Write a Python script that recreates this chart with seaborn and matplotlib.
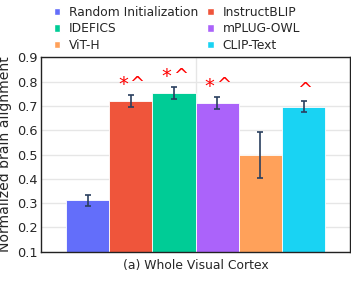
import matplotlib
matplotlib.use("Agg")
import matplotlib.pyplot as plt
import seaborn as sns
import pandas as pd
from matplotlib.patches import Patch

# data
models = ["Random Initialization", "InstructBLIP", "IDEFICS", "mPLUG-OWL", "ViT-H", "CLIP-Text"]
scores = [0.311, 0.721, 0.752, 0.713, 0.497, 0.696]
errors = [0.024, 0.024, 0.024, 0.025, 0.094, 0.023]
marks = ["", "*^", "*^", "*^", "", "^"]
colors = ["#636EFA", "#EF553B", "#00CC96", "#AB63FA", "#FFA15A", "#19D3F3"]
region = "Whole Visual Cortex"

df = pd.DataFrame({"Region": region, "Model": models, "Score": scores})

sns.set_style("white")
plt.rcParams["font.family"] = ["DejaVu Sans"]

fig = plt.figure(figsize=(3.51, 2.88), dpi=100)
ax = fig.add_axes([0.118, 0.126, 0.879, 0.675])

sns.barplot(data=df, x="Region", y="Score", hue="Model", hue_order=models,
            palette=colors, saturation=1, width=0.84, edgecolor="white",
            linewidth=0.6, errorbar=None, legend=False, ax=ax, zorder=2)

# error bars + significance marks, placed on the bar centres seaborn made
bars = [p for p in ax.patches][:len(models)]
for bar, s, e, m in zip(bars, scores, errors, marks):
    cx = bar.get_x() + bar.get_width() / 2
    ax.errorbar(cx, s, yerr=e, fmt="none", ecolor="#2a3f5f", elinewidth=1.2,
                capsize=2.5, capthick=1.2, zorder=3)
    top = s + e + 0.01
    if m == "*^":
        ax.annotate("*", (cx, top), xytext=(-5.5, -1), textcoords="offset points",
                    color="red", ha="center", va="bottom", fontsize=14)
        ax.annotate("^", (cx, top), xytext=(4.5, 0), textcoords="offset points",
                    color="red", ha="center", va="bottom", fontsize=13)
    elif m == "^":
        ax.annotate("^", (cx, top), xytext=(0.5, 0), textcoords="offset points",
                    color="red", ha="center", va="bottom", fontsize=13)

ax.set_ylim(0.1, 0.9)
ax.set_xlim(-0.5, 0.5)
ax.set_yticks([0.1, 0.2, 0.3, 0.4, 0.5, 0.6, 0.7, 0.8, 0.9])
ax.set_xticks([0])
ax.tick_params(axis="x", length=0, labelbottom=False)
ax.tick_params(axis="y", labelsize=9.3, length=0, pad=3)
ax.grid(True, color="#e6e6e6", linewidth=1, zorder=0)
ax.set_axisbelow(True)
for sp in ax.spines.values():
    sp.set_color("#222222")
    sp.set_linewidth(1)
ax.set_ylabel("Normalized brain alignment", fontsize=10.1, labelpad=3)
ax.set_xlabel("(a) Whole Visual Cortex", fontsize=8.9, labelpad=5)

# row-major legend order like the reference
order = [0, 2, 4, 1, 3, 5]
handles = [Patch(facecolor=colors[i], label=models[i]) for i in order]
fig.legend(handles=handles, loc="upper left", bbox_to_anchor=(0.132, 1.005),
           ncol=2, frameon=False, fontsize=8.8, handlelength=0.55,
           handleheight=0.55, handletextpad=0.7, columnspacing=0.75,
           labelspacing=0.28, borderaxespad=0.2)

fig.savefig("out.png", dpi=100)
